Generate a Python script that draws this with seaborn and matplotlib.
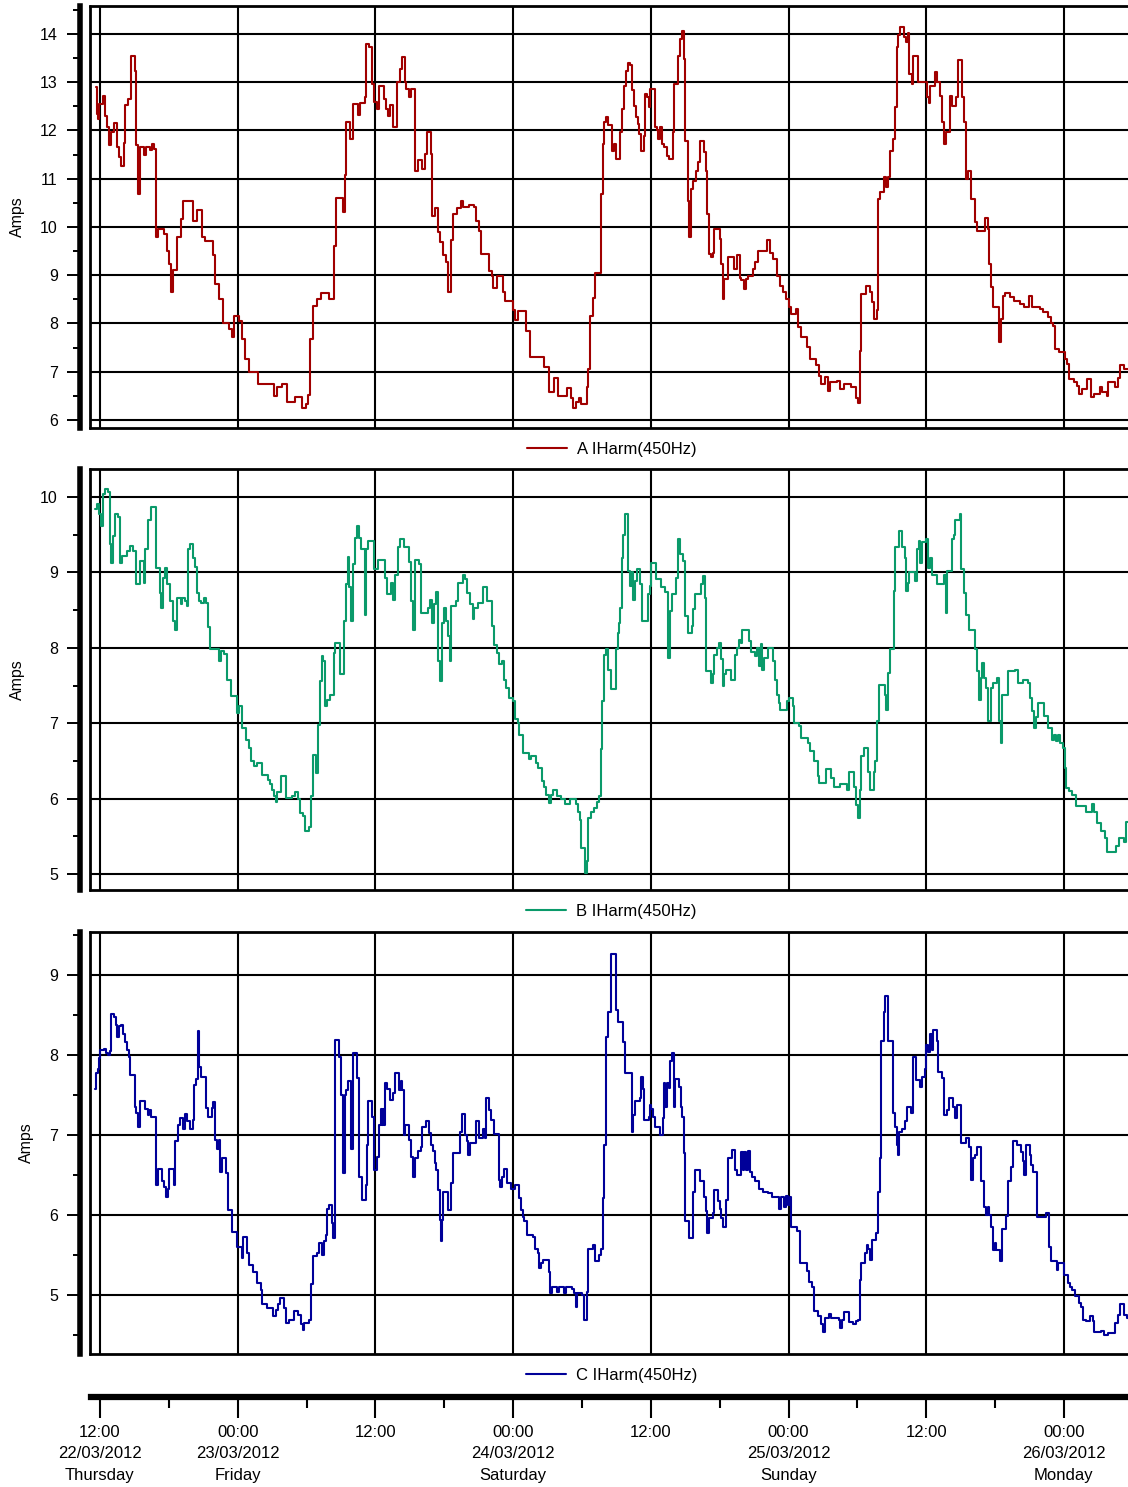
import numpy as np
import pandas as pd
import matplotlib
matplotlib.use("Agg")
import matplotlib.pyplot as plt
import seaborn as sns
from matplotlib.ticker import MultipleLocator, FixedLocator
from matplotlib.lines import Line2D

# ---------------- data ----------------
# (hours since 22/03/2012 12:00, Amps) -- step series, value holds until next point
phase_a = [
    (-0.36, 12.9), (-0.27, 12.34), (-0.18, 12.24), (-0.06, 12.55), (0.24, 12.72), (0.48, 12.3), (0.63, 12.08),
    (0.78, 11.69), (0.99, 11.96), (1.2, 12.15), (1.45, 11.65), (1.66, 11.45), (1.81, 11.27), (2.05, 11.75),
    (2.2, 12.52), (2.41, 12.65), (2.71, 13.55), (3.04, 13.24), (3.16, 11.69), (3.31, 10.68), (3.49, 11.65),
    (3.86, 11.5), (4.0, 11.65), (4.37, 11.6), (4.49, 11.72), (4.67, 11.62), (4.85, 9.79), (5.06, 9.96),
    (5.57, 9.85), (5.81, 9.5), (6.02, 9.23), (6.17, 8.65), (6.36, 9.1), (6.72, 9.79), (7.08, 10.17),
    (7.23, 10.54), (8.07, 10.13), (8.46, 10.36), (8.89, 9.79), (9.13, 9.7), (9.82, 9.41), (10.03, 8.82),
    (10.39, 8.51), (10.72, 8.02), (11.23, 7.88), (11.48, 7.71), (11.69, 8.16), (12.14, 8.05), (12.35, 7.68),
    (12.68, 7.26), (12.98, 7.0), (13.8, 6.75), (15.15, 6.5), (15.45, 6.68), (15.9, 6.75), (16.3, 6.37),
    (17.02, 6.47), (17.62, 6.24), (17.92, 6.33), (18.16, 6.52), (18.34, 7.68), (18.52, 8.37), (18.92, 8.51),
    (19.22, 8.63), (19.97, 8.51), (20.36, 9.6), (20.57, 10.61), (21.17, 10.32), (21.36, 11.08), (21.48, 12.18),
    (21.78, 11.82), (22.02, 12.55), (22.47, 12.32), (22.68, 12.58), (23.07, 12.69), (23.22, 13.79),
    (23.43, 13.72), (23.73, 12.96), (23.89, 12.6), (24.13, 12.45), (24.34, 12.92), (24.73, 12.65),
    (24.91, 12.45), (25.09, 12.31), (25.24, 12.53), (25.54, 12.08), (25.9, 13.0), (26.14, 13.27),
    (26.3, 13.52), (26.54, 13.0), (26.69, 12.85), (26.96, 12.7), (27.14, 12.85), (27.44, 11.17),
    (27.74, 11.38), (28.1, 11.2), (28.28, 11.51), (28.46, 11.96), (28.83, 11.51), (28.95, 10.23),
    (29.16, 10.39), (29.46, 9.89), (29.64, 9.68), (29.91, 9.41), (30.15, 9.27), (30.33, 8.65), (30.6, 9.72),
    (30.75, 10.27), (31.11, 10.4), (31.42, 10.54), (31.66, 10.41), (32.17, 10.45), (32.62, 10.41),
    (32.77, 10.13), (33.01, 9.92), (33.16, 9.44), (33.86, 9.09), (34.13, 8.99), (34.28, 8.73), (34.58, 8.99),
    (35.12, 8.65), (35.33, 8.47), (36.0, 8.27), (36.17, 8.08), (36.45, 8.25), (37.14, 7.85), (37.44, 7.3),
    (38.73, 7.09), (39.16, 6.59), (39.55, 6.88), (39.94, 6.5), (40.66, 6.66), (41.05, 6.45), (41.23, 6.24),
    (41.5, 6.38), (41.72, 6.45), (41.96, 6.33), (42.41, 6.68), (42.56, 7.06), (42.74, 8.16), (42.95, 8.52),
    (43.12, 9.05), (43.64, 10.68), (43.82, 11.72), (43.94, 12.17), (44.13, 12.27), (44.31, 12.11),
    (44.64, 11.58), (44.8, 11.72), (44.98, 11.41), (45.32, 11.96), (45.47, 12.45), (45.65, 12.92),
    (45.83, 13.24), (45.99, 13.4), (46.23, 13.35), (46.39, 12.83), (46.54, 12.51), (46.69, 12.27),
    (46.87, 12.13), (46.99, 11.93), (47.15, 11.58), (47.39, 11.89), (47.51, 12.76), (47.69, 12.69),
    (47.82, 12.48), (47.91, 12.86), (48.21, 12.85), (48.34, 12.07), (48.52, 12.0), (48.67, 11.82),
    (48.82, 12.07), (49.01, 11.72), (49.19, 11.65), (49.37, 11.48), (49.59, 11.41), (49.92, 11.96),
    (50.04, 12.96), (50.41, 13.55), (50.56, 13.9), (50.72, 14.07), (50.87, 13.48), (51.02, 11.79),
    (51.2, 10.54), (51.36, 9.79), (51.51, 10.79), (51.72, 10.96), (51.94, 11.17), (52.12, 11.34),
    (52.27, 11.79), (52.64, 11.55), (52.79, 11.17), (52.94, 10.27), (53.03, 9.44), (53.25, 9.37),
    (53.4, 9.47), (53.55, 9.96), (54.01, 9.75), (54.16, 9.23), (54.25, 8.51), (54.38, 8.92), (54.77, 9.37),
    (55.23, 9.13), (55.47, 9.41), (55.78, 8.94), (55.9, 8.9), (56.08, 8.72), (56.3, 8.92), (56.51, 8.99),
    (56.91, 9.13), (57.12, 9.27), (57.37, 9.51), (58.13, 9.72), (58.43, 9.47), (58.68, 9.33), (59.04, 8.99),
    (59.26, 8.78), (59.5, 8.65), (59.81, 8.51), (60.02, 8.34), (60.26, 8.2), (60.66, 8.3), (60.87, 7.92),
    (61.09, 7.71), (61.64, 7.51), (61.88, 7.26), (62.43, 7.13), (62.64, 6.92), (62.86, 6.75), (63.16, 6.89),
    (63.41, 6.61), (63.62, 6.78), (64.23, 6.8), (64.53, 6.64), (64.84, 6.75), (65.45, 6.68), (65.91, 6.45),
    (66.06, 6.36), (66.21, 7.44), (66.36, 8.61), (66.76, 8.78), (67.13, 8.65), (67.28, 8.45), (67.43, 8.09),
    (67.68, 8.27), (67.83, 10.58), (67.98, 10.73), (68.35, 11.03), (68.53, 10.82), (68.65, 11.03),
    (68.84, 11.58), (69.11, 11.82), (69.26, 12.48), (69.42, 13.72), (69.57, 13.97), (69.72, 14.14),
    (70.06, 13.93), (70.24, 13.83), (70.39, 14.03), (70.54, 13.17), (70.73, 12.96), (70.88, 13.54),
    (71.28, 13.0), (72.07, 12.69), (72.22, 12.57), (72.37, 12.92), (72.77, 13.22), (72.98, 13.0),
    (73.17, 12.72), (73.38, 12.17), (73.53, 11.72), (73.72, 11.96), (74.08, 12.72), (74.24, 12.51),
    (74.6, 12.69), (74.75, 13.47), (75.12, 12.69), (75.3, 12.17), (75.46, 11.0), (75.67, 11.15),
    (75.91, 10.59), (76.22, 10.1), (76.43, 9.92), (77.1, 10.18), (77.35, 9.96), (77.5, 9.23), (77.68, 8.75),
    (77.8, 8.34), (78.32, 7.61), (78.48, 8.09), (78.66, 8.56), (78.87, 8.63), (79.33, 8.54), (79.63, 8.47),
    (80.18, 8.4), (80.49, 8.34), (80.95, 8.58), (81.22, 8.34), (81.92, 8.3), (82.14, 8.23), (82.62, 8.13),
    (82.84, 8.02), (83.05, 7.95), (83.23, 7.47), (83.6, 7.4), (84.06, 7.26), (84.3, 7.16), (84.42, 6.85),
    (84.91, 6.78), (85.12, 6.71), (85.34, 6.54), (85.58, 6.64), (85.98, 6.85), (86.35, 6.47), (86.65, 6.54),
    (87.11, 6.68), (87.35, 6.58), (87.72, 6.5), (87.87, 6.78), (88.48, 6.68), (88.7, 6.88), (88.88, 7.13),
    (89.24, 7.06), (89.95, 7.06),
]

phase_b = [
    (-0.42, 9.84), (-0.27, 9.9), (-0.12, 9.77), (0.09, 9.62), (0.3, 10.04), (0.48, 10.1), (0.69, 10.06),
    (0.84, 9.37), (0.99, 9.13), (1.14, 9.48), (1.3, 9.77), (1.6, 9.73), (1.75, 9.13), (1.96, 9.22),
    (2.35, 9.28), (2.59, 9.35), (2.86, 9.28), (3.1, 8.84), (3.46, 9.15), (3.8, 8.86), (3.95, 9.31),
    (4.19, 9.7), (4.46, 9.87), (4.85, 9.06), (5.21, 8.73), (5.36, 8.53), (5.51, 8.93), (5.66, 9.06),
    (5.87, 8.84), (6.11, 8.62), (6.36, 8.35), (6.51, 8.24), (6.72, 8.66), (7.02, 8.58), (7.17, 8.66),
    (7.38, 8.62), (7.56, 8.55), (7.71, 9.31), (7.86, 9.38), (8.07, 9.19), (8.31, 9.07), (8.43, 8.73),
    (8.67, 8.62), (8.83, 8.6), (9.07, 8.66), (9.28, 8.6), (9.43, 8.27), (9.55, 7.98), (10.39, 7.82),
    (10.54, 7.96), (10.78, 7.92), (11.08, 7.58), (11.39, 7.36), (11.93, 7.14), (12.08, 7.23), (12.38, 6.94),
    (12.74, 6.78), (12.95, 6.67), (13.19, 6.5), (13.4, 6.43), (13.64, 6.47), (14.1, 6.32), (14.61, 6.25),
    (14.79, 6.19), (15.0, 6.12), (15.15, 6.03), (15.3, 5.96), (15.45, 6.09), (15.75, 6.3), (16.2, 6.01),
    (16.72, 6.03), (16.96, 6.09), (17.26, 5.99), (17.47, 5.81), (17.71, 5.77), (17.86, 5.57), (18.22, 5.62),
    (18.37, 6.03), (18.55, 6.58), (18.86, 6.34), (19.01, 6.98), (19.13, 7.56), (19.31, 7.89), (19.46, 7.83),
    (19.61, 7.23), (19.82, 7.31), (20.03, 7.38), (20.36, 7.93), (20.51, 8.07), (20.93, 7.65), (21.27, 8.35),
    (21.42, 8.84), (21.57, 9.2), (21.72, 8.8), (21.87, 8.35), (22.02, 9.11), (22.23, 9.46), (22.38, 9.62),
    (22.56, 9.46), (22.74, 9.31), (23.07, 8.43), (23.19, 9.31), (23.34, 9.42), (23.89, 9.04), (24.25, 9.17),
    (24.85, 8.93), (25.03, 8.71), (25.39, 8.86), (25.54, 8.64), (25.69, 8.96), (25.99, 9.34), (26.14, 9.44),
    (26.45, 9.34), (26.96, 9.14), (27.11, 8.62), (27.26, 8.24), (27.41, 9.17), (27.8, 9.11), (27.95, 8.46),
    (28.55, 8.53), (28.77, 8.64), (28.92, 8.33), (29.07, 8.58), (29.25, 8.74), (29.43, 7.82), (29.61, 7.56),
    (29.79, 8.33), (29.97, 8.53), (30.15, 8.35), (30.36, 8.15), (30.51, 7.82), (30.63, 8.55), (31.05, 8.62),
    (31.2, 8.86), (31.66, 8.97), (31.81, 8.91), (32.02, 8.72), (32.23, 8.58), (32.47, 8.38), (32.62, 8.53),
    (32.98, 8.6), (33.37, 8.81), (33.73, 8.62), (34.19, 8.29), (34.37, 8.04), (34.58, 7.93), (34.73, 7.78),
    (35.03, 7.82), (35.18, 7.58), (35.39, 7.47), (35.63, 7.34), (35.99, 7.29), (36.17, 7.05), (36.39, 7.0),
    (36.54, 6.85), (36.84, 6.61), (37.35, 6.52), (37.59, 6.56), (37.98, 6.47), (38.13, 6.41), (38.49, 6.23),
    (38.7, 6.16), (38.86, 6.05), (39.1, 5.94), (39.31, 6.05), (39.49, 6.12), (39.85, 6.03), (40.15, 5.99),
    (40.54, 5.93), (40.99, 6.0), (41.51, 5.93), (41.66, 5.83), (41.81, 5.72), (41.96, 5.35), (42.26, 5.01),
    (42.44, 5.17), (42.57, 5.74), (42.81, 5.83), (43.09, 5.88), (43.33, 5.95), (43.49, 6.04), (43.64, 6.66),
    (43.79, 7.29), (43.94, 7.91), (44.1, 7.98), (44.25, 7.7), (44.49, 7.45), (44.95, 7.98), (45.1, 8.2),
    (45.22, 8.33), (45.32, 8.53), (45.47, 9.19), (45.62, 9.5), (45.77, 9.77), (46.02, 9.02), (46.17, 8.82),
    (46.32, 9.0), (46.47, 8.64), (46.63, 8.89), (46.78, 9.04), (47.05, 8.84), (47.24, 8.35), (47.76, 8.71),
    (47.91, 8.82), (48.06, 9.13), (48.46, 8.91), (48.88, 8.81), (49.22, 8.74), (49.53, 7.87), (49.68, 8.49),
    (49.83, 8.71), (50.2, 8.93), (50.35, 9.44), (50.56, 9.24), (50.81, 9.15), (51.02, 8.42), (51.2, 8.2),
    (51.57, 8.29), (51.72, 8.51), (51.87, 8.71), (52.39, 8.84), (52.55, 8.95), (52.73, 8.66), (52.85, 7.69),
    (53.25, 7.54), (53.4, 7.65), (53.55, 7.91), (53.77, 8.0), (53.95, 8.07), (54.1, 7.85), (54.25, 7.49),
    (54.41, 7.65), (54.56, 7.71), (55.02, 7.58), (55.38, 7.91), (55.54, 8.0), (55.69, 8.11), (55.84, 8.07),
    (55.99, 8.24), (56.6, 8.09), (56.76, 7.94), (57.12, 7.89), (57.27, 8.0), (57.43, 7.76), (57.58, 8.05),
    (57.73, 7.71), (57.88, 7.87), (58.22, 8.0), (58.68, 7.82), (58.83, 7.58), (58.98, 7.38), (59.13, 7.27),
    (59.29, 7.18), (59.87, 7.29), (60.02, 7.34), (60.36, 7.23), (60.51, 7.0), (60.93, 6.97), (61.09, 6.81),
    (61.73, 6.74), (61.88, 6.63), (62.19, 6.5), (62.55, 6.3), (62.7, 6.21), (63.31, 6.4), (63.68, 6.27),
    (63.99, 6.15), (64.53, 6.2), (65.14, 6.12), (65.3, 6.35), (65.69, 6.15), (65.85, 5.92), (66.06, 5.74),
    (66.21, 6.12), (66.36, 6.56), (66.58, 6.67), (66.91, 6.35), (67.13, 6.12), (67.43, 6.35), (67.58, 6.5),
    (67.74, 7.03), (67.89, 7.51), (68.41, 7.38), (68.53, 7.18), (68.65, 7.66), (68.81, 7.98), (69.17, 8.75),
    (69.32, 9.33), (69.66, 9.55), (69.93, 9.33), (70.12, 9.19), (70.24, 8.75), (70.42, 8.86), (70.54, 9.0),
    (71.0, 8.88), (71.18, 9.31), (71.34, 9.42), (71.49, 9.13), (71.64, 9.4), (72.01, 9.44), (72.16, 9.06),
    (72.31, 9.19), (72.47, 8.97), (72.92, 8.84), (73.53, 8.97), (73.69, 8.46), (73.84, 9.02), (74.24, 9.44),
    (74.39, 9.5), (74.54, 9.7), (74.91, 9.77), (75.06, 9.04), (75.28, 8.73), (75.43, 8.44), (75.76, 8.24),
    (76.28, 7.98), (76.43, 7.69), (76.58, 7.31), (76.74, 7.6), (76.89, 7.8), (77.04, 7.6), (77.19, 7.47),
    (77.35, 7.03), (77.65, 7.47), (77.8, 7.54), (78.17, 7.6), (78.32, 7.03), (78.48, 6.74), (78.6, 7.38),
    (79.09, 7.69), (79.7, 7.71), (80.03, 7.54), (80.4, 7.58), (80.86, 7.53), (81.01, 7.34), (81.22, 7.16),
    (81.4, 6.94), (81.56, 7.08), (81.77, 7.27), (82.23, 7.1), (82.59, 6.94), (82.93, 6.78), (83.14, 6.85),
    (83.29, 6.76), (83.51, 6.85), (83.69, 6.74), (83.9, 6.67), (84.06, 6.41), (84.21, 6.14), (84.46, 6.1),
    (84.67, 6.05), (85.07, 5.9), (85.89, 5.83), (86.41, 5.93), (86.65, 5.83), (86.9, 5.68), (87.2, 5.57),
    (87.57, 5.48), (87.78, 5.3), (88.54, 5.37), (88.78, 5.48), (89.24, 5.42), (89.4, 5.69), (89.95, 5.69),
]

phase_c = [
    (-0.42, 7.58), (-0.33, 7.77), (-0.21, 7.83), (-0.12, 7.96), (0.03, 8.06), (0.39, 8.08), (0.54, 8.03),
    (0.69, 8.0), (0.9, 8.05), (0.99, 8.52), (1.2, 8.48), (1.39, 8.38), (1.51, 8.23), (1.66, 8.36),
    (1.81, 8.38), (1.99, 8.27), (2.14, 8.16), (2.35, 8.06), (2.5, 7.98), (2.65, 7.75), (3.01, 7.35),
    (3.16, 7.27), (3.34, 7.1), (3.49, 7.43), (3.95, 7.33), (4.16, 7.25), (4.31, 7.31), (4.46, 7.23),
    (4.85, 6.38), (5.06, 6.58), (5.39, 6.42), (5.57, 6.35), (5.72, 6.23), (5.9, 6.33), (6.05, 6.58),
    (6.42, 6.38), (6.57, 6.93), (6.78, 7.13), (6.96, 7.21), (7.26, 7.08), (7.41, 7.26), (7.62, 7.17),
    (7.86, 7.08), (8.07, 7.19), (8.22, 7.63), (8.37, 7.7), (8.52, 8.3), (8.67, 7.85), (8.83, 7.73),
    (9.28, 7.34), (9.43, 7.22), (9.73, 7.34), (9.88, 7.41), (10.03, 6.94), (10.18, 6.83), (10.33, 6.94),
    (10.42, 6.54), (10.63, 6.71), (11.02, 6.52), (11.14, 6.06), (11.54, 5.79), (11.93, 5.6), (12.35, 5.46),
    (12.44, 5.72), (12.83, 5.52), (12.95, 5.37), (13.34, 5.29), (13.64, 5.15), (14.04, 5.06), (14.16, 4.88),
    (14.55, 4.83), (15.09, 4.73), (15.3, 4.81), (15.51, 4.88), (15.66, 4.96), (16.05, 4.83), (16.2, 4.65),
    (16.51, 4.69), (16.87, 4.8), (17.26, 4.75), (17.5, 4.63), (17.65, 4.56), (17.8, 4.65), (18.22, 4.69),
    (18.37, 5.13), (18.52, 5.48), (18.92, 5.52), (19.07, 5.65), (19.37, 5.5), (19.52, 5.67), (19.67, 5.75),
    (19.82, 6.08), (19.97, 6.13), (20.18, 5.9), (20.33, 5.71), (20.48, 8.19), (20.87, 7.97), (21.02, 7.5),
    (21.17, 6.52), (21.33, 7.5), (21.48, 7.56), (21.63, 7.67), (21.87, 6.83), (22.02, 8.02), (22.38, 7.71),
    (22.53, 6.48), (22.83, 6.19), (23.19, 6.38), (23.28, 6.88), (23.37, 7.42), (23.73, 7.23), (23.89, 6.56),
    (24.13, 6.73), (24.34, 7.13), (24.49, 7.33), (24.58, 7.13), (24.7, 7.33), (24.79, 7.13), (24.88, 7.65),
    (25.03, 7.58), (25.24, 7.44), (25.54, 7.52), (25.69, 7.77), (26.05, 7.56), (26.2, 7.67), (26.36, 7.56),
    (26.45, 7.0), (26.6, 7.13), (26.96, 6.94), (27.11, 6.73), (27.26, 6.47), (27.41, 6.71), (27.71, 6.8),
    (28.01, 6.85), (28.1, 7.1), (28.4, 7.17), (28.7, 7.02), (28.86, 6.88), (29.01, 6.8), (29.16, 6.65),
    (29.31, 6.56), (29.46, 6.31), (29.61, 5.94), (29.7, 5.67), (29.82, 5.94), (29.91, 6.29), (30.3, 6.06),
    (30.6, 6.4), (30.75, 6.77), (31.36, 7.04), (31.51, 7.26), (31.78, 7.0), (31.96, 6.92), (32.11, 6.75),
    (32.26, 6.9), (32.77, 7.17), (33.07, 6.96), (33.37, 7.08), (33.52, 6.96), (33.67, 7.46), (33.92, 7.31),
    (34.07, 7.19), (34.37, 7.01), (34.73, 6.44), (34.88, 6.35), (35.03, 6.48), (35.18, 6.58), (35.48, 6.4),
    (35.78, 6.33), (36.17, 6.38), (36.54, 6.21), (36.69, 6.06), (36.84, 5.98), (36.99, 5.92), (37.2, 5.75),
    (37.74, 5.73), (37.95, 5.58), (38.13, 5.52), (38.25, 5.33), (38.43, 5.4), (38.64, 5.44), (39.16, 5.29),
    (39.25, 5.02), (39.4, 5.1), (39.85, 5.04), (40.0, 5.1), (40.45, 5.02), (40.6, 5.1), (41.11, 5.07),
    (41.3, 5.02), (41.45, 4.85), (41.57, 5.02), (42.02, 5.0), (42.2, 4.69), (42.42, 5.04), (42.57, 5.58),
    (42.97, 5.62), (43.12, 5.42), (43.49, 5.5), (43.7, 5.58), (43.82, 6.21), (43.94, 6.88), (44.1, 8.23),
    (44.31, 8.54), (44.49, 9.26), (44.71, 9.27), (45.01, 8.56), (45.16, 8.42), (45.62, 8.16), (45.77, 7.77),
    (46.32, 7.04), (46.47, 7.25), (46.63, 7.42), (47.05, 7.46), (47.18, 7.73), (47.3, 7.58), (47.45, 7.19),
    (47.82, 7.23), (47.91, 7.38), (48.06, 7.33), (48.21, 7.22), (48.37, 7.1), (48.82, 7.0), (49.04, 7.21),
    (49.13, 7.65), (49.28, 7.35), (49.43, 7.65), (49.59, 7.59), (49.68, 7.92), (49.83, 8.02), (49.98, 7.35),
    (50.1, 7.7), (50.44, 7.6), (50.59, 7.35), (50.72, 7.23), (50.87, 6.77), (51.02, 5.92), (51.36, 5.71),
    (51.66, 6.29), (51.87, 6.56), (52.27, 6.42), (52.61, 6.23), (52.79, 6.05), (52.94, 5.77), (53.09, 5.96),
    (53.4, 6.02), (53.55, 6.31), (53.86, 6.17), (54.01, 6.08), (54.16, 5.96), (54.31, 5.85), (54.56, 6.19),
    (54.71, 6.71), (55.08, 6.81), (55.38, 6.56), (55.54, 6.5), (55.84, 6.79), (56.0, 6.56), (56.15, 6.79),
    (56.3, 6.56), (56.45, 6.8), (56.66, 6.54), (56.82, 6.48), (57.06, 6.42), (57.43, 6.33), (57.82, 6.29),
    (58.22, 6.27), (58.59, 6.22), (59.2, 6.08), (59.35, 6.22), (59.65, 6.1), (59.81, 6.24), (59.96, 6.13),
    (60.11, 6.22), (60.26, 5.85), (60.78, 5.8), (61.03, 5.4), (61.64, 5.3), (61.79, 5.16), (62.09, 5.1),
    (62.25, 4.8), (62.55, 4.73), (62.86, 4.63), (63.01, 4.54), (63.16, 4.71), (63.53, 4.76), (63.71, 4.71),
    (64.38, 4.68), (64.53, 4.59), (64.69, 4.69), (64.84, 4.78), (65.24, 4.66), (65.6, 4.63), (65.91, 4.67),
    (66.06, 4.69), (66.21, 5.19), (66.3, 5.4), (66.67, 5.52), (66.82, 5.62), (66.97, 5.57), (67.13, 5.44),
    (67.28, 5.69), (67.65, 5.77), (67.8, 6.29), (67.95, 6.71), (68.1, 8.17), (68.29, 8.54), (68.44, 8.74),
    (68.71, 8.18), (69.11, 7.27), (69.26, 7.1), (69.42, 6.88), (69.57, 6.75), (69.66, 7.04), (69.87, 7.08),
    (70.18, 7.17), (70.33, 7.35), (70.7, 7.27), (70.85, 7.98), (71.15, 7.69), (71.49, 7.6), (71.64, 7.73),
    (71.86, 7.83), (72.01, 8.13), (72.16, 8.04), (72.31, 8.27), (72.47, 8.06), (72.62, 8.31), (72.92, 8.17),
    (73.07, 7.79), (73.38, 7.71), (73.53, 7.25), (73.84, 7.31), (73.99, 7.46), (74.36, 7.35), (74.52, 7.21),
    (74.67, 7.37), (75.0, 7.35), (75.06, 6.9), (75.43, 6.96), (75.76, 6.85), (75.91, 6.44), (76.07, 6.71),
    (76.22, 6.75), (76.43, 6.85), (76.74, 6.42), (77.04, 6.1), (77.19, 6.0), (77.35, 6.1), (77.5, 6.0),
    (77.65, 5.85), (77.8, 5.56), (77.96, 5.65), (78.11, 5.56), (78.41, 5.42), (78.57, 5.83), (78.93, 5.99),
    (79.09, 6.42), (79.39, 6.6), (79.57, 6.92), (79.94, 6.88), (80.24, 6.79), (80.4, 6.68), (80.55, 6.5),
    (80.7, 6.88), (81.01, 6.75), (81.16, 6.63), (81.31, 6.54), (81.62, 5.97), (82.44, 6.02), (82.68, 5.6),
    (82.84, 5.42), (83.36, 5.31), (83.51, 5.4), (84.0, 5.25), (84.36, 5.15), (84.51, 5.1), (84.73, 5.06),
    (84.97, 4.98), (85.28, 4.9), (85.49, 4.85), (85.64, 4.69), (85.95, 4.67), (86.25, 4.74), (86.55, 4.67),
    (86.65, 4.54), (87.26, 4.55), (87.48, 4.5), (87.87, 4.52), (88.48, 4.65), (88.7, 4.75), (88.88, 4.88),
    (89.24, 4.75), (89.46, 4.71), (89.95, 4.71),
]

series_names = ["A IHarm(450Hz)", "B IHarm(450Hz)", "C IHarm(450Hz)"]
series_colors = ["#a00000", "#0a9a6a", "#000099"]
y_limits = [(5.834, 14.58), (4.79, 10.37), (4.26, 9.54)]
y_label = "Amps"
tick_hours = [0, 12, 24, 36, 48, 60, 72, 84]
tick_labels = ["12:00\n22/03/2012\nThursday", "00:00\n23/03/2012\nFriday", "12:00",
               "00:00\n24/03/2012\nSaturday", "12:00", "00:00\n25/03/2012\nSunday", "12:00",
               "00:00\n26/03/2012\nMonday"]
x_range = (-0.87, 90.02)

# ---------------- figure ----------------
sns.set_style("white")
plt.rcParams["font.family"] = ["Liberation Sans", "DejaVu Sans"]
for key in ["text.color", "axes.labelcolor", "xtick.color", "ytick.color"]:
    plt.rcParams[key] = "black"

W, H = 1128, 1487
fig = plt.figure(figsize=(W / 100, H / 100), dpi=100)


def px_axes(left, top, right, bottom):
    return fig.add_axes([left / W, 1 - bottom / H, (right - left) / W, (bottom - top) / H])


panel_px = [(6, 428), (469, 890), (932, 1354)]

for pts, name, col, ylim, (top, bot) in zip([phase_a, phase_b, phase_c], series_names,
                                            series_colors, y_limits, panel_px):
    ax = px_axes(90, top, 1133, bot)
    df = pd.DataFrame(pts, columns=["hours", "amps"])
    sns.lineplot(data=df, x="hours", y="amps", ax=ax, color=col, lw=1.5,
                 drawstyle="steps-post", estimator=None, sort=False, label=name)
    ax.set_xlim(*x_range)
    ax.set_ylim(*ylim)
    ax.xaxis.set_major_locator(MultipleLocator(12))
    ax.yaxis.set_major_locator(MultipleLocator(1))
    ax.yaxis.set_minor_locator(MultipleLocator(0.5))
    ax.grid(True, which="major", color="black", lw=1.5)
    ax.tick_params(axis="x", which="both", length=0, labelbottom=False)
    ax.tick_params(axis="y", which="major", left=True, length=9.5, width=1.4,
                   labelsize=11.5, pad=6.5, color="black", labelcolor="black")
    ax.tick_params(axis="y", which="minor", left=True, length=5, width=1.4, color="black")
    for s in ["top", "bottom"]:
        ax.spines[s].set_color("black")
        ax.spines[s].set_linewidth(2)
    ax.spines["right"].set_visible(False)
    ax.spines["left"].set_position(("outward", 7.2))
    ax.spines["left"].set_linewidth(4)
    ax.spines["left"].set_color("black")
    ax.add_line(Line2D([0, 0], [0, 1], transform=ax.transAxes, color="black", lw=2, clip_on=False))
    ax.set_xlabel("")
    ax.set_ylabel(y_label, fontsize=11.5, labelpad=11, color="black")
    leg = ax.legend(loc="center", bbox_to_anchor=(0.5, -0.05), frameon=False, fontsize=12,
                    handlelength=2.4, handletextpad=0.6)
    for t in leg.get_texts():
        t.set_color("black")

# time axis
axt = px_axes(91, 1396, 1133, 1397)
axt.set_xlim(x_range[0] + 1 / 11.464, x_range[1])
axt.set_yticks([])
axt.patch.set_visible(False)
for s in ["top", "left", "right"]:
    axt.spines[s].set_visible(False)
axt.spines["bottom"].set_linewidth(4.5)
axt.spines["bottom"].set_color("black")
axt.xaxis.set_major_locator(FixedLocator(tick_hours))
axt.set_xticklabels(tick_labels)
axt.xaxis.set_minor_locator(FixedLocator([h + 6 for h in tick_hours if h + 6 < x_range[1]]))
axt.tick_params(axis="x", which="major", bottom=True, length=15, width=1.5, pad=5,
                labelsize=12, color="black", labelcolor="black")
axt.tick_params(axis="x", which="minor", bottom=True, length=8, width=1.5, color="black")
for lbl in axt.get_xticklabels():
    lbl.set_linespacing(1.55)

fig.savefig("out.png", dpi=100)
